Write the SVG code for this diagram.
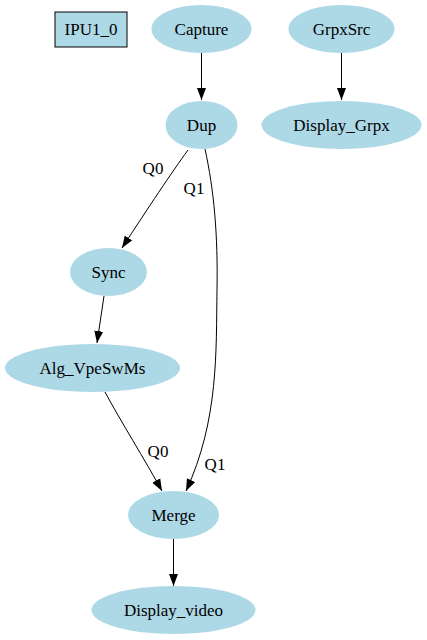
<svg xmlns="http://www.w3.org/2000/svg" width="427" height="640" viewBox="0 0 427 640">
<style>
.n{fill:#add8e6;stroke:none}
.b{fill:#add8e6;stroke:#000;stroke-width:1}
.t{font-family:"Liberation Serif","Times New Roman",serif;font-size:17px;fill:#000;text-anchor:middle}
.e{fill:none;stroke:#000;stroke-width:1;marker-end:url(#ah)}
</style>
<defs>
<marker id="ah" markerUnits="userSpaceOnUse" markerWidth="12" markerHeight="10" refX="12" refY="5" orient="auto">
<path d="M0,0.5 L12,5 L0,9.5 z" fill="#000"/>
</marker>
</defs>
<rect width="427" height="640" fill="#fff"/>
<g id="connectors">
<path class="e" d="M201.5,53 L201.5,100"/>
<path class="e" d="M341.5,53 L341.5,100"/>
<path class="e" d="M188,150 C172,172 148,208 122,248"/>
<path class="e" d="M205,149 C214,190 218,235 217,290 C216,350 219,420 186,491"/>
<path class="e" d="M104,296 L97,343"/>
<path class="e" d="M105,392 C120,420 145,460 162,491"/>
<path class="e" d="M173.5,539 L173.5,586"/>
<text class="t" x="153" y="174">Q0</text>
<text class="t" x="194" y="194">Q1</text>
<text class="t" x="158" y="457">Q0</text>
<text class="t" x="215" y="470">Q1</text>
</g>
<g id="IPU1_0"><rect class="b" x="55" y="12" width="72" height="35"/><text class="t" x="91" y="35">IPU1_0</text></g>
<g id="Capture"><ellipse class="n" cx="201.5" cy="29" rx="50" ry="24"/><text class="t" x="201.5" y="35">Capture</text></g>
<g id="GrpxSrc"><ellipse class="n" cx="341.5" cy="29" rx="53" ry="24"/><text class="t" x="341.5" y="35">GrpxSrc</text></g>
<g id="Dup"><ellipse class="n" cx="201.5" cy="125" rx="36" ry="24"/><text class="t" x="201.5" y="131">Dup</text></g>
<g id="Display_Grpx"><ellipse class="n" cx="341.5" cy="125" rx="80" ry="24"/><text class="t" x="341.5" y="131">Display_Grpx</text></g>
<g id="Sync"><ellipse class="n" cx="108.5" cy="272" rx="38.5" ry="24"/><text class="t" x="108.5" y="278">Sync</text></g>
<g id="Alg_VpeSwMs"><ellipse class="n" cx="92.5" cy="368" rx="87.5" ry="24"/><text class="t" x="92.5" y="374">Alg_VpeSwMs</text></g>
<g id="Merge"><ellipse class="n" cx="173.5" cy="515" rx="45.5" ry="24"/><text class="t" x="173.5" y="521">Merge</text></g>
<g id="Display_video"><ellipse class="n" cx="173.5" cy="610" rx="82" ry="24"/><text class="t" x="173.5" y="616">Display_video</text></g>
</svg>
